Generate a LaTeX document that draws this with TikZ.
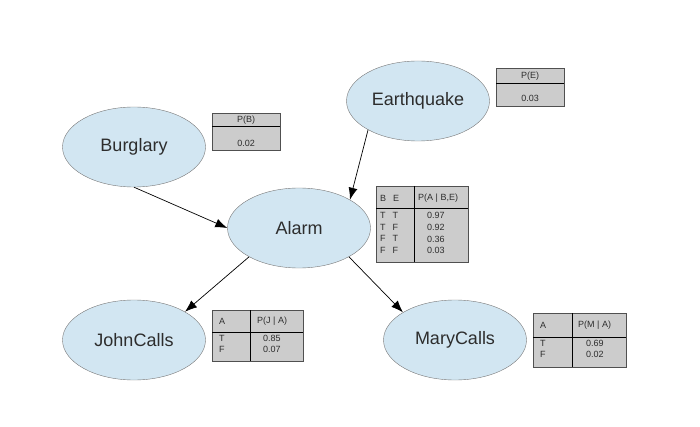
\documentclass[tikz,border=0pt]{standalone}
\usepackage{fontspec}
\setmainfont{Liberation Sans}
\usetikzlibrary{arrows.meta,shapes.geometric,positioning}
\definecolor{nodeColor}{RGB}{210,230,242}
\definecolor{nodeBorder}{RGB}{120,120,120}
\definecolor{tableColor}{RGB}{204,204,204}
\definecolor{tableBorder}{RGB}{80,80,80}
\definecolor{textColor}{RGB}{45,45,45}
\tikzset{randvar/.style={ellipse, draw=nodeBorder, fill=nodeColor, minimum width=143pt, minimum height=80pt, inner sep=0pt, font=\fontsize{18}{20}\selectfont, text=textColor}}
\tikzset{cpt/.style={rectangle, draw=tableBorder, fill=tableColor, anchor=north west, inner sep=0pt}}
\tikzset{cell/.style={font=\fontsize{9}{11}\selectfont, text=textColor, inner sep=0pt}}
\tikzset{influence/.style={-{Latex[length=12pt,width=9pt]}, line width=0.7pt, black}}

\begin{document}
\begin{tikzpicture}[x=1pt, y=-1pt]
\useasboundingbox (0,0) rectangle (700,427);
% Nodes
\node (Burglary) [randvar] at (134,147) {Burglary};
\node (Earthquake) [randvar] at (418,101) {Earthquake};
\node (Alarm) [randvar] at (299,228) {Alarm};
\node (JohnCalls) [randvar] at (134,340) {JohnCalls};
\node (MaryCalls) [randvar] at (455,340) {MaryCalls};

% Tables
\node (cptB) [cpt, minimum width=68pt, minimum height=37pt] at (212,113) {};
\draw[line width=1pt] ([yshift=-14pt]cptB.north west) -- ([yshift=-14pt]cptB.north east);
\node (cptBhead) [cell] at ([yshift=-7pt]cptB.north) {P(B)};
\node (cptBval) [cell] at ([yshift=-30pt]cptB.north) {0.02};

\node (cptE) [cpt, minimum width=68pt, minimum height=38pt] at (496,68) {};
\draw[line width=1pt] ([yshift=-16pt]cptE.north west) -- ([yshift=-16pt]cptE.north east);
\node (cptEhead) [cell] at ([yshift=-8pt]cptE.north) {P(E)};
\node (cptEval) [cell] at ([yshift=-30pt]cptE.north) {0.03};

\node (cptA) [cpt, minimum width=92pt, minimum height=76pt] at (376,186) {};
\draw[line width=1pt] ([yshift=-23pt]cptA.north west) -- ([yshift=-23pt]cptA.north east);
\draw[line width=0.8pt] ([xshift=38pt]cptA.north west) -- ([xshift=38pt]cptA.south west);
\node (cptAhead) [cell, anchor=west] at ([xshift=4pt,yshift=-12pt]cptA.north west) {B\hspace{7pt}E};
\node (cptAtitle) [cell, anchor=west] at ([xshift=42pt,yshift=-12pt]cptA.north west) {P(A | B,E)};
\node (cptArows) [cell, font=\fontsize{9}{11.8}\selectfont, anchor=north west, align=left] at ([xshift=4pt,yshift=-26pt]cptA.north west) {T\hspace{7pt}T\\T\hspace{7pt}F\\F\hspace{7pt}T\\F\hspace{7pt}F};
\node (cptAvals) [cell, font=\fontsize{9}{11.8}\selectfont, anchor=north west, align=left] at ([xshift=51pt,yshift=-26pt]cptA.north west) {0.97\\0.92\\0.36\\0.03};

\node (cptJ) [cpt, minimum width=91pt, minimum height=51pt] at (212,310) {};
\draw[line width=1pt] ([yshift=-22pt]cptJ.north west) -- ([yshift=-22pt]cptJ.north east);
\draw[line width=0.8pt] ([xshift=38pt]cptJ.north west) -- ([xshift=38pt]cptJ.south west);
\node (cptJhead) [cell, anchor=west] at ([xshift=7pt,yshift=-11pt]cptJ.north west) {A};
\node (cptJtitle) [cell, anchor=west] at ([xshift=45pt,yshift=-11pt]cptJ.north west) {P(J | A)};
\node (cptJrows) [cell, anchor=north west, align=left] at ([xshift=7pt,yshift=-25pt]cptJ.north west) {T\\F};
\node (cptJvals) [cell, anchor=north west, align=left] at ([xshift=51pt,yshift=-25pt]cptJ.north west) {0.85\\0.07};

\node (cptM) [cpt, minimum width=93pt, minimum height=54pt] at (533,313) {};
\draw[line width=1pt] ([yshift=-24pt]cptM.north west) -- ([yshift=-24pt]cptM.north east);
\draw[line width=0.8pt] ([xshift=39pt]cptM.north west) -- ([xshift=39pt]cptM.south west);
\node (cptMhead) [cell, anchor=west] at ([xshift=7pt,yshift=-12pt]cptM.north west) {A};
\node (cptMtitle) [cell, anchor=west] at ([xshift=45pt,yshift=-12pt]cptM.north west) {P(M | A)};
\node (cptMrows) [cell, anchor=north west, align=left] at ([xshift=7pt,yshift=-27pt]cptM.north west) {T\\F};
\node (cptMvals) [cell, anchor=north west, align=left] at ([xshift=53pt,yshift=-27pt]cptM.north west) {0.69\\0.02};

% Connectors
\draw[influence] (Burglary.south) -- (Alarm.west);
\draw[influence] (Earthquake.210) -- (Alarm.29);
\draw[influence] (Alarm.210) -- (JohnCalls.29);
\draw[influence] (Alarm.330) -- (MaryCalls.152);
\end{tikzpicture}
\end{document}
